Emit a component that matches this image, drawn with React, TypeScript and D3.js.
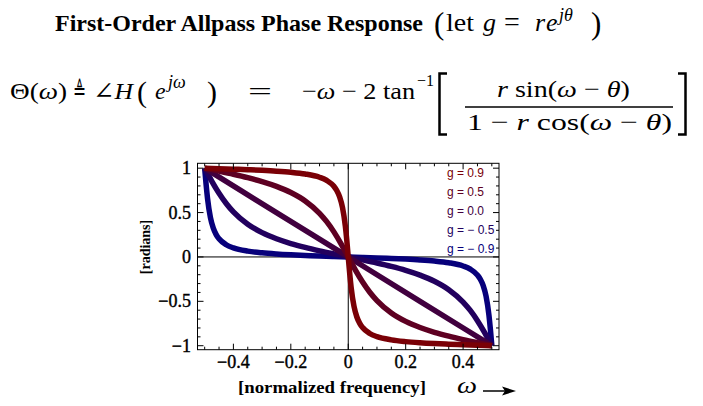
import React from "react";
import * as d3 from "d3";

// ---- data ----
const freq09 = [-0.5,-0.45,-0.4,-0.35,-0.3,-0.25,-0.2,-0.15,-0.1,-0.075,-0.05,-0.04,-0.03,-0.02,-0.01,-0.005,0,0.005,0.01,0.02,0.03,0.04,0.05,0.075,0.1,0.15,0.2,0.25,0.3,0.35,0.4,0.45,0.5];
const phase09 = [1,0.9947,0.9891,0.983,0.9757,0.9665,0.954,0.9345,0.8978,0.8626,0.7957,0.7487,0.6766,0.5565,0.3428,0.1847,0,-0.1847,-0.3428,-0.5565,-0.6766,-0.7487,-0.7957,-0.8626,-0.8978,-0.9345,-0.954,-0.9665,-0.9757,-0.983,-0.9891,-0.9947,-1];

const freq05 = [-0.5,-0.45,-0.4,-0.35,-0.3,-0.25,-0.2,-0.15,-0.1,-0.075,-0.05,-0.025,-0.01,0,0.01,0.025,0.05,0.075,0.1,0.15,0.2,0.25,0.3,0.35,0.4,0.45,0.5];
const phase05 = [1,0.9664,0.9313,0.8929,0.8488,0.7952,0.7262,0.6312,0.4919,0.3974,0.2824,0.1476,0.0598,0,-0.0598,-0.1476,-0.2824,-0.3974,-0.4919,-0.6312,-0.7262,-0.7952,-0.8488,-0.8929,-0.9313,-0.9664,-1];

const freq00 = [-0.5,-0.25,0,0.25,0.5];
const phase00 = [1,0.5,0,-0.5,-1];

const freqM05 = [-0.5,-0.49,-0.475,-0.45,-0.425,-0.4,-0.35,-0.3,-0.25,-0.2,-0.15,-0.1,-0.05,0,0.05,0.1,0.15,0.2,0.25,0.3,0.35,0.4,0.425,0.45,0.475,0.49,0.5];
const phaseM05 = [1,0.9402,0.8524,0.7176,0.6026,0.5081,0.3688,0.2738,0.2048,0.1512,0.1071,0.0687,0.0336,0,-0.0336,-0.0687,-0.1071,-0.1512,-0.2048,-0.2738,-0.3688,-0.5081,-0.6026,-0.7176,-0.8524,-0.9402,-1];

const freqM09 = [-0.5,-0.495,-0.49,-0.48,-0.47,-0.46,-0.45,-0.425,-0.4,-0.35,-0.3,-0.25,-0.2,-0.15,-0.1,-0.05,0,0.05,0.1,0.15,0.2,0.25,0.3,0.35,0.4,0.425,0.45,0.46,0.47,0.48,0.49,0.495,0.5];
const phaseM09 = [1,0.8153,0.6572,0.4435,0.3234,0.2513,0.2043,0.1374,0.1022,0.0655,0.046,0.0335,0.0243,0.017,0.0109,0.0053,0,-0.0053,-0.0109,-0.017,-0.0243,-0.0335,-0.046,-0.0655,-0.1022,-0.1374,-0.2043,-0.2513,-0.3234,-0.4435,-0.6572,-0.8153,-1];

const seriesLabels = ["g = 0.9", "g = 0.5", "g = 0.0", "g = \u2212 0.5", "g = \u2212 0.9"];
const seriesColors = ["#7a0006", "#5e0022", "#41003f", "#22005e", "#07007b"];
const seriesFreqs = [freq09, freq05, freq00, freqM05, freqM09];
const seriesPhases = [phase09, phase05, phase00, phaseM05, phaseM09];

const xMajorTicks = [-0.4, -0.2, 0, 0.2, 0.4];
const xTickLabels = ["\u22120.4", "\u22120.2", "0", "0.2", "0.4"];
const yMajorTicks = [-1, -0.5, 0, 0.5, 1];
const yTickLabels = ["\u22121", "\u22120.5", "0", "0.5", "1"];

const SERIF = "'Liberation Serif', 'DejaVu Serif', 'Times New Roman', serif";
const SANS = "'Liberation Sans', Arial, sans-serif";

export default function App() {
  const W = 703, H = 406;
  const left = 197.5, right = 499, top = 163.3, bottom = 349.7;
  const x = d3.scaleLinear().domain([-0.525, 0.525]).range([left, right]);
  const y = d3.scaleLinear().domain([-1.045, 1.055]).range([bottom, top]);

  const xMinor = d3.range(-0.5, 0.5001, 0.05).map((v) => +v.toFixed(3)).filter((v) => !xMajorTicks.some((m) => Math.abs(m - v) < 1e-6));
  const yMinor = d3.range(-1, 1.0001, 0.1).map((v) => +v.toFixed(3)).filter((v) => !yMajorTicks.some((m) => Math.abs(m - v) < 1e-6));

  const line = d3.line<[number, number]>().x((d) => x(d[0])).y((d) => y(d[1])).curve(d3.curveMonotoneX);

  const order = [4, 3, 2, 1, 0];
  const majLen = 6, minLen = 3;

  return (
    <svg width={W} height={H} style={{ position: "absolute", left: 0, top: 0, background: "#fff" }}>
      {/* Title */}
      <text x={55} y={31} fontFamily={SERIF} fontWeight="bold" fontSize={23} textLength={368} lengthAdjust="spacingAndGlyphs">First-Order Allpass Phase Response</text>
      <g fontFamily={SERIF} fontSize={26}>
        <text x={434} y={34} fontSize={31}>(</text>
        <text x={446} y={31} textLength={28} lengthAdjust="spacingAndGlyphs">let</text>
        <text x={483} y={31} fontStyle="italic">g</text>
        <text x={504} y={31} fontSize={28}>=</text>
        <text x={535} y={31} fontStyle="italic">r</text>
        <text x={546} y={31} fontStyle="italic">e</text>
        <text x={559} y={21} fontStyle="italic" fontSize={18}>j{"\u03B8"}</text>
        <text x={591} y={34} fontSize={31}>)</text>
      </g>

      {/* Formula */}
      <g fontFamily={SERIF} fontSize={24}>
        <text x={10} y={99} textLength={57} lengthAdjust="spacingAndGlyphs">{"\u0398("}<tspan fontStyle="italic">{"\u03C9"}</tspan>)</text>
        <text x={73} y={99} fontFamily="'DejaVu Serif', serif" textLength={13} lengthAdjust="spacingAndGlyphs">{"\u225C"}</text>
        <text x={93} y={99} textLength={40} lengthAdjust="spacingAndGlyphs">{"\u2220"}<tspan fontStyle="italic">H</tspan></text>
        <text x={137} y={102} fontSize={30}>(</text>
        <text x={155} y={99} fontStyle="italic">e</text>
        <text x={168} y={88} fontStyle="italic" fontSize={18}>j{"\u03C9"}</text>
        <text x={207} y={102} fontSize={30}>)</text>
        <text x={248} y={99} textLength={24} lengthAdjust="spacingAndGlyphs">=</text>
        <text x={302} y={99} textLength={113} lengthAdjust="spacingAndGlyphs">{"\u2212"}<tspan fontStyle="italic">{"\u03C9"}</tspan>{" \u2212 2 tan"}</text>
        <text x={417} y={86} fontSize={16}>{"\u22121"}</text>
        {/* brackets */}
        <path d="M447,73.5 H439.5 V134.5 H447" fill="none" stroke="#000" strokeWidth={2.5} />
        <path d="M678,73.5 H685.5 V134.5 H678" fill="none" stroke="#000" strokeWidth={2.5} />
        <text x={497} y={97} textLength={133} lengthAdjust="spacingAndGlyphs"><tspan fontStyle="italic">r</tspan>{" sin("}<tspan fontStyle="italic">{"\u03C9"}</tspan>{" \u2212 "}<tspan fontStyle="italic">{"\u03B8"}</tspan>)</text>
        <line x1={465} x2={673} y1={107} y2={107} stroke="#000" strokeWidth={1.6} />
        <text x={467} y={130} textLength={205} lengthAdjust="spacingAndGlyphs">{"1 \u2212 "}<tspan fontStyle="italic">r</tspan>{" cos("}<tspan fontStyle="italic">{"\u03C9"}</tspan>{" \u2212 "}<tspan fontStyle="italic">{"\u03B8"}</tspan>)</text>
      </g>

      {/* Plot frame, axes */}
      <line x1={x(0)} x2={x(0)} y1={top} y2={bottom} stroke="#000" strokeWidth={1} />
      <line x1={left} x2={right} y1={y(0)} y2={y(0)} stroke="#000" strokeWidth={1} />

      {/* Curves */}
      {order.map((i) => (
        <path key={i} d={line(seriesFreqs[i].map((f, k) => [f, seriesPhases[i][k]]) as [number, number][]) || ""} fill="none" stroke={seriesColors[i]} strokeWidth={5.5} strokeLinejoin="round" />
      ))}

      {/* Ticks */}
      <g stroke="#000" strokeWidth={1}>
        {xMajorTicks.map((t) => (
          <g key={"xm" + t}>
            <line x1={x(t)} x2={x(t)} y1={bottom} y2={bottom - majLen} />
            <line x1={x(t)} x2={x(t)} y1={top} y2={top + majLen} />
          </g>
        ))}
        {xMinor.map((t) => (
          <g key={"xn" + t}>
            <line x1={x(t)} x2={x(t)} y1={bottom} y2={bottom - minLen} />
            <line x1={x(t)} x2={x(t)} y1={top} y2={top + minLen} />
          </g>
        ))}
        {yMajorTicks.map((t) => (
          <g key={"ym" + t}>
            <line x1={left} x2={left + majLen} y1={y(t)} y2={y(t)} />
            <line x1={right} x2={right - majLen} y1={y(t)} y2={y(t)} />
          </g>
        ))}
        {yMinor.map((t) => (
          <g key={"yn" + t}>
            <line x1={left} x2={left + minLen} y1={y(t)} y2={y(t)} />
            <line x1={right} x2={right - minLen} y1={y(t)} y2={y(t)} />
          </g>
        ))}
      </g>
      <rect x={left} y={top} width={right - left} height={bottom - top} fill="none" stroke="#000" strokeWidth={1} />

      {/* Tick labels */}
      <g fontFamily={SERIF} fontSize={18} stroke="#000" strokeWidth={0.4}>
        {xMajorTicks.map((t, i) => (
          <text key={"xl" + t} x={x(t)} y={368} textAnchor="middle">{xTickLabels[i]}</text>
        ))}
        {yMajorTicks.map((t, i) => (
          <text key={"yl" + t} x={191} y={y(t) + 6} textAnchor="end">{yTickLabels[i]}</text>
        ))}
      </g>

      {/* Legend */}
      <g fontFamily={SANS} fontSize={12}>
        {seriesLabels.map((s, i) => (
          <text key={s} x={447} y={177 + i * 19} fill={seriesColors[i]}>{s}</text>
        ))}
      </g>

      {/* Axis labels */}
      <text transform="translate(150,247) rotate(-90)" textAnchor="middle" fontFamily={SERIF} fontWeight="bold" fontSize={14}>[radians]</text>
      <text x={238} y={393} fontFamily={SERIF} fontWeight="bold" fontSize={16} textLength={188} lengthAdjust="spacingAndGlyphs">[normalized frequency]</text>
      <text x={457} y={393} fontFamily={SERIF} fontStyle="italic" fontSize={24} textLength={20} lengthAdjust="spacingAndGlyphs">{"\u03C9"}</text>
      <line x1={483} x2={505} y1={391} y2={391} stroke="#000" strokeWidth={1.5} />
      <path d="M502,386.5 L516,391 L502,395.5 L505,391 Z" fill="#000" />
    </svg>
  );
}
